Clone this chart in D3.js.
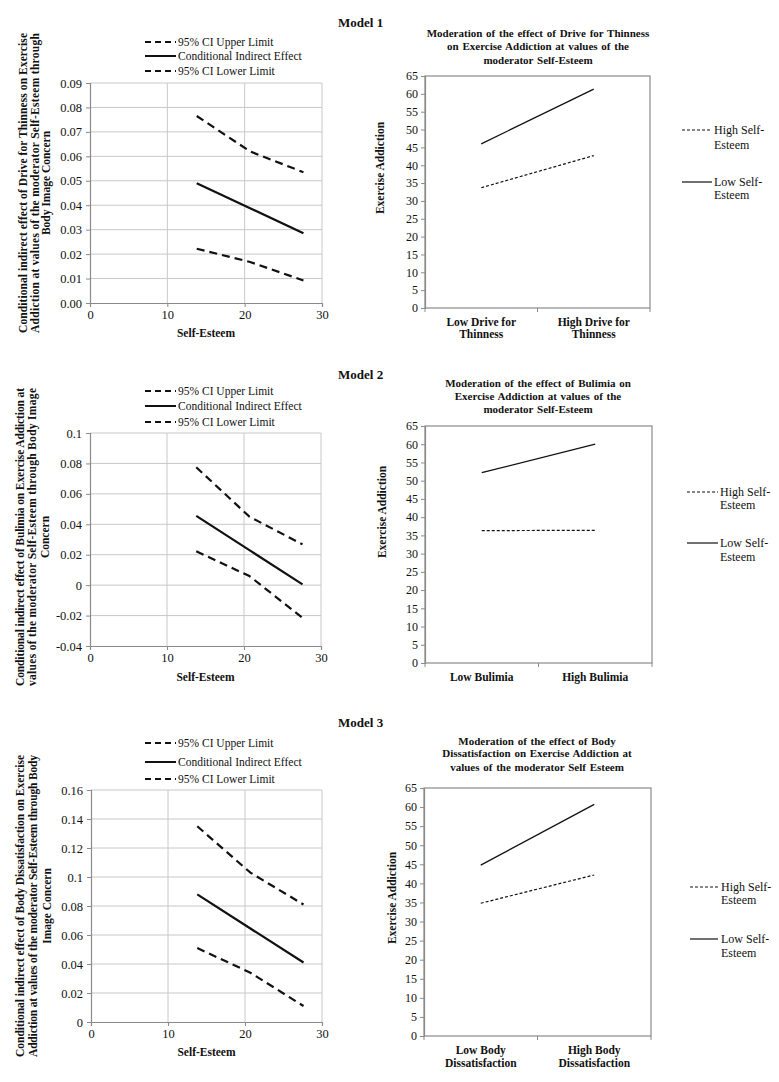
<!DOCTYPE html>
<html><head><meta charset="utf-8">
<script src="https://cdn.jsdelivr.net/npm/d3@7/dist/d3.min.js"></script>
<style>
body{margin:0;background:#fff}
svg{display:block}
text{font-family:"Liberation Serif","Times New Roman",serif;fill:#111}
</style>
</head><body>
<svg id="c" width="779" height="1082"></svg>
<script>
// ---------------- DATA ----------------
const modelTitles = ["Model 1", "Model 2", "Model 3"];
const ciLegend = ["95% CI Upper Limit", "Conditional Indirect Effect", "95% CI Lower Limit"];
const selfEsteem = [13.8, 20.7, 27.6];
const xTicks = [0, 10, 20, 30];

const m1Upper = [0.0765, 0.0620, 0.0535];
const m1Cond  = [0.0490, 0.0388, 0.0285];
const m1Lower = [0.0222, 0.0168, 0.0092];
const m1YTicks = [0, 0.01, 0.02, 0.03, 0.04, 0.05, 0.06, 0.07, 0.08, 0.09];
const m1YLabels = ["0.00","0.01","0.02","0.03","0.04","0.05","0.06","0.07","0.08","0.09"];

const m2Upper = [0.0775, 0.0450, 0.0268];
const m2Cond  = [0.0455, 0.0230, 0.0005];
const m2Lower = [0.0222, 0.0060, -0.0215];
const m2YTicks = [-0.04, -0.02, 0, 0.02, 0.04, 0.06, 0.08, 0.1];
const m2YLabels = ["-0.04","-0.02","0","0.02","0.04","0.06","0.08","0.1"];

const m3Upper = [0.1350, 0.1030, 0.0810];
const m3Cond  = [0.0880, 0.0645, 0.0410];
const m3Lower = [0.0510, 0.0340, 0.0110];
const m3YTicks = [0, 0.02, 0.04, 0.06, 0.08, 0.1, 0.12, 0.14, 0.16];
const m3YLabels = ["0","0.02","0.04","0.06","0.08","0.1","0.12","0.14","0.16"];

const leftYTitles = [
  ["Conditional indirect effect of Drive for Thinness on Exercise", "Addiction at values of the moderator Self-Esteem through", "Body Image Concern"],
  ["Conditional indirect effect of Bulimia on Exercise Addiction at", "values of the moderator Self-Esteem through Body Image", "Concern"],
  ["Conditional indirect effect of Body Dissatisfaction on Exercise", "Addiction at values of the moderator Self-Esteem through Body", "Image Concern"]
];
const xTitle = "Self-Esteem";

const modTicks = [0, 5, 10, 15, 20, 25, 30, 35, 40, 45, 50, 55, 60, 65];
const modYTitle = "Exercise Addiction";
const seLegend = [["High Self-", "Esteem"], ["Low Self-", "Esteem"]];

const m1Cats = [["Low Drive for", "Thinness"], ["High Drive for", "Thinness"]];
const m1HighSE = [33.7, 42.7];
const m1LowSE  = [46.0, 61.3];
const m1ModTitle = ["Moderation of the effect of Drive for Thinness", "on Exercise Addiction  at values of the", "moderator Self-Esteem"];

const m2Cats = [["Low Bulimia"], ["High Bulimia"]];
const m2HighSE = [36.3, 36.4];
const m2LowSE  = [52.2, 60.0];
const m2ModTitle = ["Moderation of the effect of Bulimia  on", "Exercise Addiction  at values of the", "moderator Self-Esteem"];

const m3Cats = [["Low Body", "Dissatisfaction"], ["High Body", "Dissatisfaction"]];
const m3HighSE = [34.8, 42.2];
const m3LowSE  = [44.8, 60.7];
const m3ModTitle = ["Moderation of the effect of Body", "Dissatisfaction on Exercise Addiction at", "values of the moderator Self Esteem"];

// ---------------- DRAWING ----------------
const svg = d3.select("#c");
const GRID = "#c8c8c8", AXIS = "#8a8a8a";

function drawLeft(L, upper, cond, lower, yTicks, yLabels, titleLines, modelTitle) {
  const g = svg.append("g");
  const x = d3.scaleLinear().domain([0, 30]).range([L.x0, L.x1]);
  const y = d3.scaleLinear().domain([yTicks[0], yTicks[yTicks.length - 1]]).range([L.y1, L.y0]);

  g.append("text").attr("x", 338).attr("y", L.modelY).attr("font-size", 13).attr("font-weight", "bold").text(modelTitle);

  g.selectAll(".hg").data(yTicks.slice(1)).join("line")
    .attr("x1", L.x0).attr("x2", L.x1).attr("y1", d => y(d)).attr("y2", d => y(d))
    .attr("stroke", GRID).attr("stroke-width", 1);
  g.selectAll(".vg").data(xTicks.slice(1)).join("line")
    .attr("x1", d => x(d)).attr("x2", d => x(d)).attr("y1", L.y0).attr("y2", L.y1)
    .attr("stroke", GRID).attr("stroke-width", 1);

  const ya = d3.axisLeft(y).tickValues(yTicks).tickSize(4).tickFormat((d, i) => yLabels[i]);
  const yg = g.append("g").attr("transform", `translate(${L.x0},0)`).call(ya);
  const xa = d3.axisBottom(x).tickValues(xTicks).tickSize(4).tickFormat(d3.format("d"));
  const xg = g.append("g").attr("transform", `translate(0,${L.y1})`).call(xa);
  [yg, xg].forEach(a => {
    a.select(".domain").attr("stroke", AXIS).attr("stroke-width", 1.2);
    a.selectAll(".tick line").attr("stroke", AXIS);
    a.selectAll(".tick text").attr("font-family", "Liberation Serif").attr("font-size", 12.5).attr("fill", "#222");
  });
  yg.selectAll(".tick text").attr("x", -8);
  xg.selectAll(".tick text").attr("dy", "0.71em").attr("y", 7);

  const line = d3.line().x((d, i) => x(selfEsteem[i])).y(d => y(d));
  const series = [[upper, "8,5"], [cond, null], [lower, "8,5"]];
  series.forEach(([vals, dash]) => {
    g.append("path").datum(vals).attr("d", line).attr("fill", "none")
      .attr("stroke", "#111").attr("stroke-width", 2.2)
      .attr("stroke-dasharray", dash);
  });

  series.forEach(([vals, dash], i) => {
    const ly = L.legendY[i];
    g.append("line").attr("x1", 145).attr("x2", 176).attr("y1", ly).attr("y2", ly)
      .attr("stroke", "#111").attr("stroke-width", 2).attr("stroke-dasharray", dash ? "6,4" : null);
    g.append("text").attr("x", 178).attr("y", ly + 4).attr("font-size", 11.5).text(ciLegend[i]);
  });

  g.append("text").attr("x", (L.x0 + L.x1) / 2).attr("y", L.xTitleY).attr("text-anchor", "middle")
    .attr("font-size", 11.5).attr("font-weight", "bold").text(xTitle);

  titleLines.forEach((t, i) => {
    const tx = g.append("text")
      .attr("transform", `translate(${L.yTitleX[i] + 4},${L.yTitleCY}) rotate(-90)`)
      .attr("text-anchor", "middle").attr("font-size", 11.5).attr("font-weight", "bold").text(t);
    if (i < 2) tx.attr("textLength", L.yTitleLen).attr("lengthAdjust", "spacing");
  });
}

function drawRight(R, high, low, cats, titleLines) {
  const g = svg.append("g");
  const x = d3.scaleBand().domain(cats.map((c, i) => i)).range([R.x0, R.x1]);
  const y = d3.scaleLinear().domain([0, 65]).range([R.y1, R.y0]);

  titleLines.forEach((t, i) => {
    g.append("text").attr("x", R.titleCX).attr("y", R.titleY[i]).attr("text-anchor", "middle")
      .attr("font-size", 11).attr("font-weight", "bold").attr("word-spacing", "1px").text(t);
  });

  g.append("rect").attr("x", R.x0).attr("y", R.y0).attr("width", R.x1 - R.x0).attr("height", R.y1 - R.y0)
    .attr("fill", "none").attr("stroke", AXIS).attr("stroke-width", 1.2);

  const ya = d3.axisLeft(y).tickValues(modTicks).tickSize(4).tickFormat(d3.format("d"));
  const yg = g.append("g").attr("transform", `translate(${R.x0},0)`).call(ya);
  yg.select(".domain").attr("stroke", AXIS).attr("stroke-width", 1.2);
  yg.selectAll(".tick line").attr("stroke", AXIS);
  yg.selectAll(".tick text").attr("x", -7).attr("font-family", "Liberation Serif").attr("font-size", 12).attr("fill", "#222");

  const bounds = [R.x0, R.x0 + x.bandwidth(), R.x1];
  g.selectAll(".ct").data(bounds).join("line")
    .attr("x1", d => d).attr("x2", d => d).attr("y1", R.y1).attr("y2", R.y1 + 4)
    .attr("stroke", AXIS);

  cats.forEach((lines, i) => {
    lines.forEach((t, j) => {
      g.append("text").attr("x", x(i) + x.bandwidth() / 2).attr("y", R.catY[j]).attr("text-anchor", "middle")
        .attr("font-size", 11.5).attr("font-weight", "bold").text(t);
    });
  });

  const line = d3.line().x((d, i) => x(i) + x.bandwidth() / 2).y(d => y(d));
  g.append("path").datum(high).attr("d", line).attr("fill", "none")
    .attr("stroke", "#111").attr("stroke-width", 1.2).attr("stroke-dasharray", "3,2");
  g.append("path").datum(low).attr("d", line).attr("fill", "none")
    .attr("stroke", "#111").attr("stroke-width", 1.3);

  g.append("text").attr("transform", `translate(${R.yTitleX + 4},${R.yTitleCY}) rotate(-90)`)
    .attr("text-anchor", "middle").attr("font-size", 11.5).attr("font-weight", "bold").text(modYTitle);

  const dashes = ["3,2", null];
  seLegend.forEach((lines, i) => {
    const ly = R.legY[i * 2];
    g.append("line").attr("x1", R.legX0).attr("x2", R.legX1).attr("y1", ly).attr("y2", ly)
      .attr("stroke", "#111").attr("stroke-width", 1.2).attr("stroke-dasharray", dashes[i]);
    lines.forEach((t, j) => {
      g.append("text").attr("x", R.legTX).attr("y", R.legY[i * 2 + j] + 4).attr("font-size", 12).text(t);
    });
  });
}

const L1 = {x0: 90, x1: 322, y0: 83, y1: 303, modelY: 27, legendY: [42, 56, 71], xTitleY: 337,
            yTitleX: [23, 35, 46], yTitleCY: 183, yTitleLen: 300};
const L2 = {x0: 90, x1: 321, y0: 433, y1: 646, modelY: 379, legendY: [391, 406, 422], xTitleY: 681,
            yTitleX: [20, 32, 45], yTitleCY: 537, yTitleLen: 298};
const L3 = {x0: 91, x1: 322, y0: 790, y1: 1022, modelY: 727, legendY: [743, 762, 779], xTitleY: 1056,
            yTitleX: [20, 33, 47], yTitleCY: 906, yTitleLen: 302};

const R1 = {x0: 425, x1: 650, y0: 76, y1: 308, titleCX: 538, titleY: [37, 50, 64], catY: [326, 338],
            yTitleX: 380, yTitleCY: 168, legX0: 682, legX1: 712, legTX: 714, legY: [130, 145, 182, 195]};
const R2 = {x0: 425, x1: 652, y0: 426, y1: 663, titleCX: 538, titleY: [387, 400, 413], catY: [681],
            yTitleX: 382, yTitleCY: 512, legX0: 687, legX1: 718, legTX: 720, legY: [492, 505, 543, 557]};
const R3 = {x0: 424, x1: 651, y0: 788, y1: 1036, titleCX: 537, titleY: [745, 757, 771], catY: [1054, 1067],
            yTitleX: 392, yTitleCY: 898, legX0: 690, legX1: 718, legTX: 721, legY: [887, 900, 939, 953]};

drawLeft(L1, m1Upper, m1Cond, m1Lower, m1YTicks, m1YLabels, leftYTitles[0], modelTitles[0]);
drawLeft(L2, m2Upper, m2Cond, m2Lower, m2YTicks, m2YLabels, leftYTitles[1], modelTitles[1]);
drawLeft(L3, m3Upper, m3Cond, m3Lower, m3YTicks, m3YLabels, leftYTitles[2], modelTitles[2]);
drawRight(R1, m1HighSE, m1LowSE, m1Cats, m1ModTitle);
drawRight(R2, m2HighSE, m2LowSE, m2Cats, m2ModTitle);
drawRight(R3, m3HighSE, m3LowSE, m3Cats, m3ModTitle);
</script>
</body></html>
